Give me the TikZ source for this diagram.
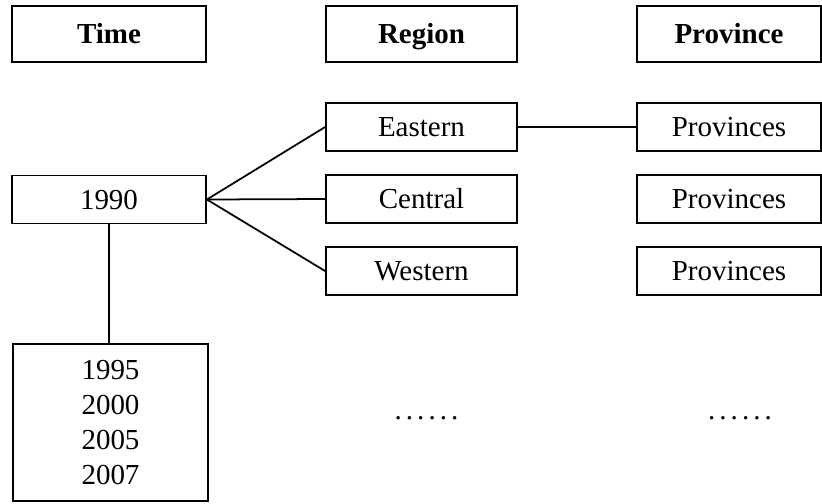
\documentclass[tikz,border=0pt]{standalone}
\usepackage{fontspec}
\setmainfont{Liberation Serif}
\usepackage{tikz}

\begin{document}
\begin{tikzpicture}[
  cell/.style = {draw, line width=1pt, inner sep=0pt, minimum height=0.96cm, font=\fontsize{16.5}{19.8}\selectfont},
  head/.style = {cell, minimum height=1.12cm, text height=15pt, text depth=4pt, font=\fontsize{16.5}{19.8}\selectfont\bfseries},
  link/.style = {line width=1pt}
]
\useasboundingbox (0,0) rectangle (16.44,-10.06);
% headers
\node [head, minimum width=3.88cm] (time) at (2.18,-0.68) {Time};
\node [head, minimum width=3.82cm] (region) at (8.43,-0.68) {Region};
\node [head, minimum width=3.68cm] (province) at (14.58,-0.68) {Province};
% time column
\node [cell, minimum width=3.88cm] (y1990) at (2.18,-3.99) {1990};
\node [cell, minimum width=3.9cm, minimum height=3.14cm, align=center] (ylater) at (2.21,-8.45) {1995\\2000\\2005\\2007};
% regions
\node [cell, minimum width=3.82cm] (eastern) at (8.43,-2.54) {Eastern};
\node [cell, minimum width=3.82cm] (central) at (8.43,-3.98) {Central};
\node [cell, minimum width=3.82cm] (western) at (8.43,-5.42) {Western};
% provinces
\node [cell, minimum width=3.68cm] (provE) at (14.58,-2.54) {Provinces};
\node [cell, minimum width=3.68cm] (provC) at (14.58,-3.98) {Provinces};
\node [cell, minimum width=3.68cm] (provW) at (14.58,-5.42) {Provinces};
% more
\node [font=\fontsize{16.5}{19.8}\selectfont\addfontfeatures{LetterSpace=14}] (dotsR) at (8.53,-8.36) {......};
\node [font=\fontsize{16.5}{19.8}\selectfont\addfontfeatures{LetterSpace=14}] (dotsP) at (14.8,-8.36) {......};
% links
\draw [link] (y1990.east) -- (eastern.west);
\draw [link] (y1990.east) -- (central.west);
\draw [link] (y1990.east) -- (western.west);
\draw [link] (eastern.east) -- (provE.west);
\draw [link] (y1990.south) -- (y1990.south |- ylater.north);
\end{tikzpicture}
\end{document}
